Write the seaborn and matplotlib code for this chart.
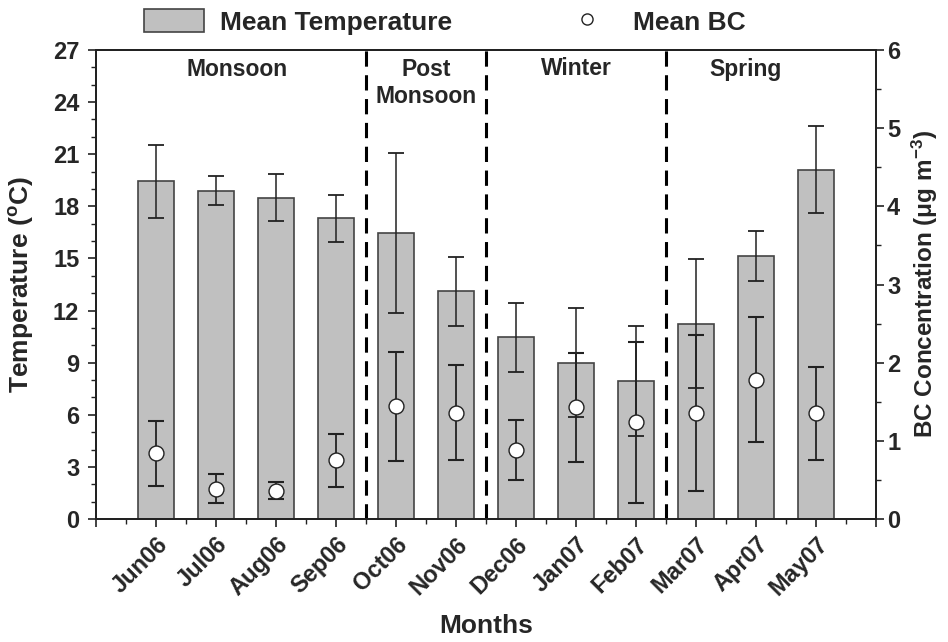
import matplotlib
matplotlib.use("Agg")
import matplotlib.pyplot as plt
import seaborn as sns
import pandas as pd
import numpy as np
from matplotlib.lines import Line2D
from matplotlib.patches import Patch
from matplotlib.ticker import MultipleLocator, FixedLocator

# ---- data ----
months = ['Jun06', 'Jul06', 'Aug06', 'Sep06', 'Oct06', 'Nov06',
          'Dec06', 'Jan07', 'Feb07', 'Mar07', 'Apr07', 'May07']
temp_mean = [19.45, 18.9, 18.5, 17.3, 16.45, 13.1, 10.45, 9.0, 7.95, 11.25, 15.15, 20.1]
temp_sd = [2.1, 0.85, 1.35, 1.37, 4.6, 2.0, 2.0, 3.15, 3.15, 3.7, 1.42, 2.5]
bc_mean = [0.84, 0.39, 0.36, 0.75, 1.44, 1.36, 0.88, 1.43, 1.24, 1.36, 1.78, 1.35]
bc_sd = [0.42, 0.19, 0.11, 0.34, 0.70, 0.61, 0.385, 0.70, 1.03, 1.0, 0.80, 0.60]
season_bounds = [3.5, 5.5, 8.5]
season_names = ['Monsoon', 'Post\nMonsoon', 'Winter', 'Spring']
season_x = [1.35, 4.5, 7.0, 9.82]
season_y = [25.85, 25.1, 25.95, 25.85]

sns.set_style("ticks")
plt.rcParams['font.family'] = ['Liberation Sans', 'DejaVu Sans']
plt.rcParams['font.weight'] = 'bold'
plt.rcParams['axes.labelweight'] = 'bold'
plt.rcParams['mathtext.fontset'] = 'custom'
plt.rcParams['mathtext.rm'] = 'Liberation Sans:bold'
plt.rcParams['mathtext.bf'] = 'Liberation Sans:bold'
plt.rcParams['mathtext.it'] = 'Liberation Sans:bold'
plt.rcParams['mathtext.default'] = 'regular'

df = pd.DataFrame({'Month': months, 'Temp': temp_mean, 'TempSD': temp_sd,
                   'BC': bc_mean, 'BCSD': bc_sd})

fig = plt.figure(figsize=(9.48, 6.42), dpi=100)
ax = fig.add_axes([0.1013, 0.1916, 0.924 - 0.1013, 0.9221 - 0.1916])

sns.barplot(data=df, x='Month', y='Temp', ax=ax, color='#c0c0c0',
            width=0.6, edgecolor='#444444', linewidth=1.2, saturation=1,
            errorbar=None, zorder=2)
xpos = np.arange(len(months))
ax.errorbar(xpos, df['Temp'], yerr=df['TempSD'], fmt='none', ecolor='#222222',
            elinewidth=1.1, capsize=6, capthick=1.3, zorder=3)

for b in season_bounds:
    ax.axvline(b, color='black', lw=2.2, ls=(0, (5, 2.8)), zorder=4)

for name, sx, sy in zip(season_names, season_x, season_y):
    ax.text(sx, sy, name, ha='center', va='center', fontsize=16.5,
            fontweight='bold', linespacing=1.2, zorder=5)

ax.set_xlim(-1, 12)
ax.set_ylim(0, 27)
ax.yaxis.set_major_locator(MultipleLocator(3))
ax.yaxis.set_minor_locator(MultipleLocator(1))
ax.xaxis.set_major_locator(FixedLocator(list(range(-1, 13))))
ax.set_xticklabels([''] + months + [''])
ax.xaxis.set_minor_locator(FixedLocator(list(np.arange(-0.5, 12.0, 1.0))))
for lab in ax.get_xticklabels():
    lab.set_rotation(45)
    lab.set_ha('right')
    lab.set_rotation_mode('anchor')
    lab.set_fontsize(17)
    lab.set_fontweight('bold')
ax.tick_params(axis='y', labelsize=17, pad=6)
ax.tick_params(which='major', length=6, width=1.2, direction='out', color='#222222')
ax.tick_params(which='minor', length=3.5, width=1.0, direction='out', color='#222222')
ax.tick_params(axis='x', pad=4)
ax.set_xlabel('Months', fontsize=19, fontweight='bold', labelpad=10)
ax.set_ylabel('Temperature ($^{o}$C)', fontsize=19, fontweight='bold', labelpad=12)
for s in ax.spines.values():
    s.set_linewidth(1.4)
    s.set_color('#222222')
    s.set_visible(True)

ax2 = ax.twinx()
ax2.errorbar(xpos, df['BC'], yerr=df['BCSD'], fmt='none', ecolor='#222222',
             elinewidth=1.3, capsize=5.5, capthick=1.5, zorder=3)
sns.scatterplot(x=xpos, y=df['BC'], ax=ax2, marker='o', s=115, color='white',
                edgecolor='#222222', linewidth=1.0, zorder=4)
ax2.set_ylim(0, 6)
ax2.set_xlim(-1, 12)
ax2.yaxis.set_major_locator(MultipleLocator(1))
ax2.yaxis.set_minor_locator(MultipleLocator(0.5))
ax2.tick_params(axis='y', labelsize=17, pad=2)
ax2.tick_params(which='major', length=6, width=1.2, direction='out', color='#222222')
ax2.tick_params(which='minor', length=3.5, width=1.0, direction='out', color='#222222')
ax2.set_ylabel('BC Concentration (μg m$^{-3}$)', fontsize=17.5, fontweight='bold', labelpad=7)
for s in ax2.spines.values():
    s.set_linewidth(1.4)
    s.set_color('#222222')

handles = [Patch(facecolor='#c0c0c0', edgecolor='#444444', linewidth=1.2),
           Line2D([], [], marker='o', ls='none', markersize=8,
                  markerfacecolor='white', markeredgecolor='#222222')]
fig.legend(handles, ['Mean Temperature', 'Mean BC'], ncol=2, frameon=False,
           loc='center left', bbox_to_anchor=(0.152, 0.966),
           prop={'size': 19, 'weight': 'bold'},
           handlelength=2.27, handleheight=0.95, handletextpad=0.6,
           columnspacing=4.0, borderaxespad=0, borderpad=0)

fig.savefig('out.png', dpi=100)
